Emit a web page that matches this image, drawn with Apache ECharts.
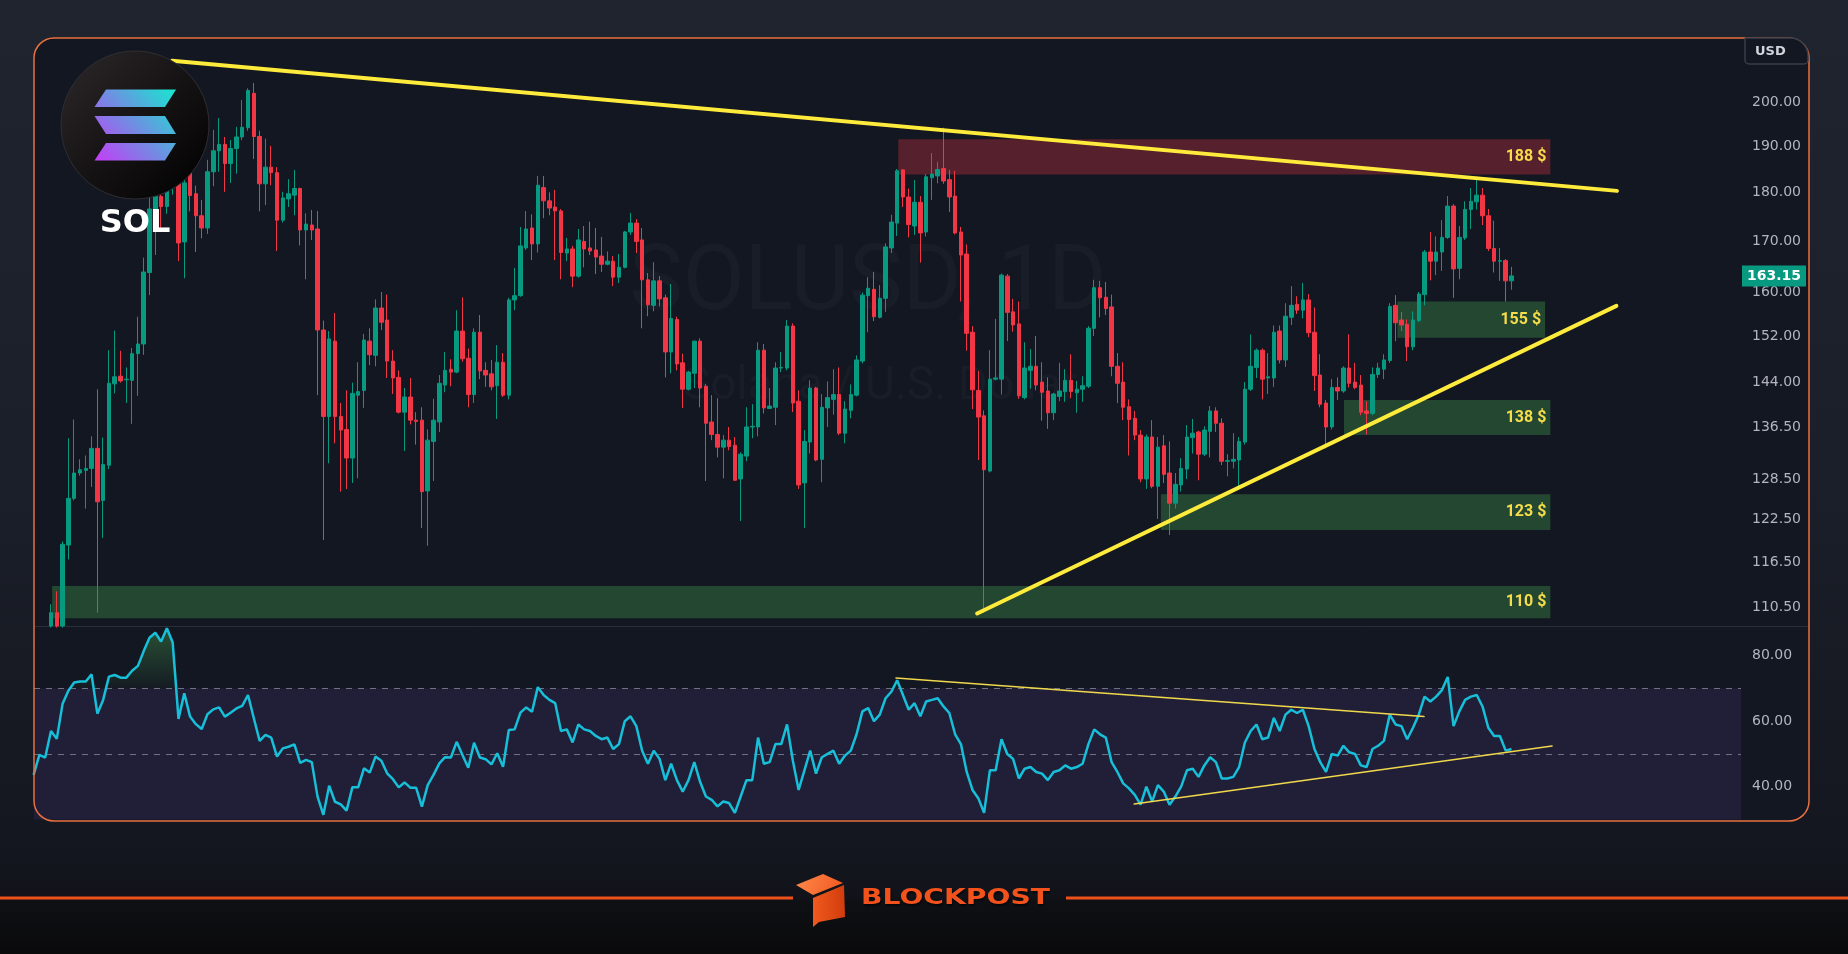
<!DOCTYPE html>
<html>
<head>
<meta charset="utf-8">
<title>SOLUSD 1D</title>
<style>
html, body { margin: 0; padding: 0; background: #161a23; }
#main { width: 1848px; height: 954px; }
</style>
<script src="https://cdn.jsdelivr.net/npm/echarts@6.0.0/dist/echarts.min.js"></script>
</head>
<body>
<div id="main"></div>
<script>
var chart = echarts.init(document.getElementById('main'));

// daily candles, index 0 = first visible bar
var opens = [108.1,109.8,108.1,118.9,125.6,129.4,129.8,130.1,133.2,125.3,
130.6,143.7,145.0,144.4,144.3,148.9,150.6,163.8,176.5,179.1,
177.0,181.0,182.3,169.8,184.4,179.7,175.1,172.6,184.4,189.0,
190.4,186.2,189.5,192.1,194.2,202.2,192.2,181.8,185.4,184.2,
174.2,178.6,179.4,180.8,172.2,173.2,172.4,153.1,138.3,151.1,
138.3,136.2,131.7,141.8,142.6,151.1,148.6,157.1,154.9,147.6,
144.8,139.0,141.5,137.7,137.7,126.7,134.3,137.4,143.5,146.2,
145.7,152.9,148.1,141.9,152.7,146.0,145.4,143.4,147.4,141.8,
158.6,159.4,168.6,172.6,169.4,181.0,178.2,176.9,176.1,167.6,
168.4,163.1,169.9,168.6,168.2,167.0,165.4,166.0,162.9,164.8,
171.8,173.6,170.2,162.4,157.6,162.2,159.0,149.2,155.0,147.3,
142.8,145.5,151.1,143.3,137.4,135.4,133.4,134.5,133.7,128.5,
132.0,136.6,136.6,149.5,139.6,139.8,146.4,146.4,153.8,140.8,
127.9,134.2,143.0,131.5,139.7,141.1,141.9,135.6,139.3,141.8,
147.6,159.4,160.6,155.4,158.9,168.6,173.6,184.8,179.0,173.0,
177.9,171.8,183.1,183.5,185.1,182.7,179.2,171.8,167.4,152.7,
142.6,138.4,129.7,144.5,144.5,163.1,156.4,154.2,141.4,146.0,
146.7,144.0,142.5,138.9,141.6,142.4,144.3,142.2,142.8,143.3,
153.4,160.9,159.1,157.3,146.7,144.0,139.9,138.0,135.3,128.5,
135.0,127.4,133.6,129.4,124.9,127.6,130.0,134.9,135.8,132.3,
135.9,139.2,137.2,131.2,131.2,131.4,134.2,142.8,146.5,149.5,
144.7,144.7,152.9,147.8,155.4,157.8,156.7,158.6,152.7,145.2,
140.5,136.6,143.1,142.5,146.4,144.0,143.5,139.2,138.8,145.3,
146.2,147.7,157.6,154.9,154.1,150.1,154.8,159.6,167.8,166.0,
167.8,170.7,177.1,164.6,170.6,176.4,178.0,179.4,175.1,168.5,
166.0,166.1,162.2];
var highs = [110.9,112.6,119.4,134.8,137.8,131.5,132.1,135.1,142.8,134.9,
149.5,153.0,149.4,146.5,149.9,155.5,166.7,181.8,182.2,181.5,
183.5,186.0,184.0,183.5,185.5,181.4,178.4,187.0,193.7,196.4,
192.1,191.4,194.4,200.6,203.4,204.7,193.5,191.7,190.1,185.4,
180.1,182.8,184.8,181.0,175.6,176.3,176.1,154.8,152.9,156.2,
140.5,142.6,143.9,147.4,152.4,153.4,158.7,160.1,159.6,149.5,
146.0,143.0,144.7,139.0,139.8,136.2,141.2,145.2,149.2,147.9,
156.7,159.1,149.8,153.4,155.8,147.4,147.8,150.4,149.0,159.0,
164.7,172.8,176.1,175.4,183.5,183.5,180.0,180.5,176.5,170.6,
169.0,172.4,173.0,173.9,172.6,170.8,167.9,167.0,167.4,172.0,
175.7,174.4,172.6,163.7,165.8,163.1,159.6,161.6,155.5,148.9,
145.9,151.2,151.6,143.7,141.8,141.3,135.3,136.6,135.0,132.6,
139.8,140.3,150.9,150.6,143.0,147.4,149.2,154.9,154.3,142.6,
136.1,144.3,143.2,142.0,144.1,146.2,146.5,140.8,143.6,148.6,
160.0,162.9,163.9,161.4,169.5,175.3,185.0,185.0,180.8,182.6,
179.2,183.9,188.5,186.6,194.2,184.8,184.6,172.8,169.3,153.8,
145.9,139.3,149.5,155.1,163.6,163.5,158.8,158.3,150.9,149.7,
152.0,147.4,144.8,142.2,147.3,146.2,148.8,144.2,145.0,153.8,
162.4,162.2,162.0,159.6,149.0,147.4,141.1,139.2,136.1,135.4,
137.7,135.0,135.3,134.3,129.4,131.7,136.9,137.9,136.0,136.7,
140.0,139.8,138.0,132.3,135.6,135.0,144.0,152.3,149.8,149.8,
149.0,153.9,153.9,158.0,161.2,159.3,161.8,159.7,157.2,148.8,
141.0,144.5,144.8,146.7,152.3,147.3,145.2,140.8,146.5,147.3,
148.8,158.0,159.5,156.4,155.0,156.5,160.1,168.2,171.8,170.9,
174.2,179.2,177.5,173.0,178.1,180.9,183.3,180.9,176.5,174.1,
168.6,166.4,164.9];
var lows = [107.9,107.9,107.9,116.9,125.3,129.0,124.1,127.3,109.8,119.9,
130.0,142.1,143.9,140.5,137.1,141.7,148.7,159.5,167.2,172.0,
175.5,179.5,166.0,162.7,176.0,167.8,170.5,171.4,181.3,184.4,
180.1,182.0,184.0,191.4,193.5,187.2,176.0,177.3,181.5,168.0,
173.7,176.9,175.2,169.1,162.5,170.2,141.8,119.6,130.9,134.0,
126.6,127.0,127.9,128.6,139.7,146.9,146.7,153.1,144.7,142.0,
138.8,132.8,137.0,133.8,121.3,118.8,128.2,135.8,142.3,143.3,
145.5,147.5,139.8,140.5,144.5,143.2,142.6,137.9,141.5,141.1,
156.7,159.2,168.2,166.2,167.7,174.6,175.2,166.2,162.5,166.0,
161.0,162.8,164.8,167.2,163.5,163.9,165.2,161.2,161.8,164.6,
171.2,167.6,153.4,155.6,156.5,157.4,144.8,145.5,146.0,139.7,
142.6,143.0,139.8,128.2,134.5,131.8,128.6,132.9,128.2,122.3,
131.2,134.8,135.1,138.8,139.5,136.9,145.7,146.0,139.0,127.0,
121.3,132.4,131.2,128.0,136.6,138.6,135.3,134.0,138.0,141.6,
147.2,152.7,154.7,155.2,156.4,167.6,171.0,176.9,170.7,171.2,
165.7,170.9,178.4,181.9,181.8,175.9,171.3,158.3,149.4,139.5,
131.4,109.8,129.5,144.3,141.9,151.1,152.8,141.2,141.1,142.9,
142.6,137.6,136.3,137.7,140.8,140.7,141.3,138.9,140.7,143.0,
152.0,155.4,155.8,145.0,140.5,137.7,132.1,134.5,128.0,127.0,
127.1,122.6,127.9,120.3,124.1,126.6,128.5,132.4,128.3,132.0,
131.8,135.8,130.6,128.9,130.1,127.0,133.8,142.5,144.7,141.1,
142.0,143.2,147.2,146.6,154.0,156.0,155.2,151.8,142.5,139.8,
133.2,136.2,141.0,142.2,143.1,142.8,138.5,135.4,138.5,144.7,
144.5,147.3,151.1,152.9,147.6,149.5,154.5,157.6,162.3,163.3,
164.1,170.4,159.0,162.5,170.2,172.4,176.4,173.2,168.0,163.8,
162.2,158.3,160.5];
var closes = [109.8,108.1,119.0,125.6,129.4,129.9,130.1,133.2,125.1,130.7,
143.8,144.9,144.2,144.5,148.9,150.6,163.9,176.5,179.1,177.0,
181.0,182.3,169.6,182.0,179.3,175.1,172.6,184.4,189.0,190.4,
186.2,189.5,192.1,194.3,202.9,192.2,181.8,185.4,184.2,174.2,
178.8,179.7,180.8,172.2,173.4,172.2,153.1,138.3,151.5,138.3,
136.1,131.7,142.1,142.4,151.3,148.7,157.1,154.5,147.6,144.7,
139.0,141.5,137.7,137.5,126.6,134.5,137.7,143.8,146.0,145.7,
152.9,148.0,141.9,152.7,145.9,145.2,143.2,147.4,141.8,158.6,
159.4,169.0,172.4,169.4,181.5,178.2,176.7,176.1,167.7,168.4,
163.1,170.2,168.4,168.0,166.8,165.4,166.0,162.9,164.8,171.8,
173.6,169.9,162.4,157.7,162.2,158.8,149.2,155.2,147.1,142.8,
145.7,151.1,143.0,137.2,135.4,133.4,134.5,133.5,128.3,132.3,
136.6,136.7,149.5,139.7,140.0,146.4,146.5,153.8,140.5,127.6,
134.3,143.0,131.4,139.8,141.4,141.9,135.6,139.5,141.9,147.8,
159.5,160.8,155.5,158.9,168.8,173.8,184.6,179.0,173.3,177.9,
171.6,183.3,183.9,184.9,182.4,179.0,171.6,167.2,152.5,142.7,
138.2,129.9,144.5,144.7,163.3,156.3,154.0,141.7,146.4,146.7,
143.5,142.3,138.9,142.0,142.5,144.3,142.4,142.8,143.4,153.4,
160.9,159.0,157.0,146.7,143.8,139.8,137.8,135.3,128.5,135.0,
127.4,133.4,129.2,124.9,127.7,130.1,135.0,135.6,132.3,136.1,
139.2,137.2,131.2,131.3,131.5,134.3,142.8,146.7,149.5,144.5,
144.9,152.7,147.8,155.6,157.6,156.7,158.6,152.6,145.1,140.3,
136.6,143.1,142.5,146.4,143.8,143.1,139.0,138.8,145.3,146.4,
147.8,157.4,154.4,154.0,150.1,154.9,159.7,167.8,166.0,167.8,
170.7,177.1,164.5,170.7,176.4,178.1,179.4,175.1,168.5,166.0,
166.1,162.2,163.15];

// RSI(14), first value belongs to bar index -3 (left of the first visible candle)
var rsiStart = -3;
var rsi = [43.6,49.7,48.9,57.0,54.6,65.3,69.3,71.8,72.1,72.1,
74.3,62.3,66.5,73.6,74.1,73.3,73.3,75.4,76.9,81.4,
85.5,87.0,84.3,88.4,84.0,60.7,68.5,61.4,59.1,57.6,
62.1,63.6,64.2,61.4,62.6,63.9,64.7,68.0,60.9,54.0,
55.8,55.0,49.2,51.7,52.2,52.9,47.3,48.2,47.5,36.9,
31.4,40.3,35.4,34.6,32.7,39.8,39.8,45.6,44.3,49.2,
47.9,44.1,42.3,39.8,41.3,39.7,39.7,33.9,40.5,43.6,
47.1,49.0,48.9,53.7,49.7,45.8,53.4,48.9,48.4,46.8,
50.2,46.1,57.3,57.5,62.6,64.2,62.9,
70.4,68,66.5,65.5,57,57.5,53.5,59,57.5,57,
55.5,54.5,55,51.5,53,60,61.5,58.5,51,47,
51,48.5,42,47,42,38.5,42,47.5,41.5,37,
36,34,35.5,35,32,37,42,42,55,47,
47.5,53,53,59,48,39,45,51,44,49,
50,51,47,49.5,51,56,63,64,60,62,
67,69,72.5,68,63.5,65.5,61.5,66,66.5,67,
64.5,62.5,56,53,44.5,39,36.5,32,45,45,
54.5,50,48.5,42.5,45.5,46,44.5,44,42,44.5,
45,46.5,45.5,46,47,53,57.5,56,55,47.5,
44.5,41,39.5,37.5,34.5,40,35.5,40.5,38.5,34.5,
37,40,45,45.5,43,46.5,49,47.5,42.5,42.5,
43,46,53.5,57,59,54.5,55,61,57,62,
63.5,62.5,63.5,58.5,51.5,47.5,44.5,50,49.5,52.5,
50.5,50,46.5,46,51.5,52.5,54,62,59,58.5,
54.5,58,62,67.5,66,67.5,69.5,73.5,58.5,63,
66.5,67.5,68,64.5,58,55.5,55.5,51,51.5];

var priceTicks = [110.5, 116.5, 122.5, 128.5, 136.5, 144, 152, 160, 170, 180, 190, 200];
var rsiTicks = [40, 60, 80];

// drawn zones: bar index range and price range
var zones = [
  { label: '188 $', from: 146.2, to: 258.7, low: 183.8, high: 191.6, kind: 'supply' },
  { label: '155 $', from: 232.3, to: 257.8, low: 151.7, high: 158.3, kind: 'demand' },
  { label: '138 $', from: 223.1, to: 258.7, low: 135.3, high: 141.0, kind: 'demand' },
  { label: '123 $', from: 191.5, to: 258.7, low: 121.0, high: 126.2, kind: 'demand' },
  { label: '110 $', from: 0.2, to: 258.7, low: 109.1, high: 113.3, kind: 'demand' }
];
// trend lines as [barIndex, value] pairs
var priceTrends = [[[20.9, 210.1], [270.2, 180.3]], [[159.8, 109.7], [270.1, 157.5]]];
var rsiTrends = [[[145.8, 73.2], [236.9, 61.4]], [[186.9, 34.7], [259.0, 52.4]]];

var X_MIN = -2.93, X_MAX = 291.6;
var lastClose = closes[closes.length - 1];

var candleData = opens.map(function (o, i) {
  return [i, o, closes[i], lows[i], highs[i]];
});
var rsiData = rsi.map(function (v, k) { return [rsiStart + k, v]; });
var rsiOver = rsiData.map(function (p) { return [p[0], Math.max(p[1], 70)]; });

var fmt = function (v) { return Number(v).toFixed(2); };

var zoneAreas = zones.map(function (z) {
  var red = z.kind === 'supply';
  return [{
    xAxis: z.from, yAxis: z.high,
    itemStyle: { color: red ? 'rgba(242,54,69,0.3)' : 'rgba(76,175,80,0.32)' },
    label: { show: true, formatter: z.label }
  }, { xAxis: z.to, yAxis: z.low }];
});

function trendSeries(pts, xi, width, color) {
  return {
    type: 'line', xAxisIndex: xi, yAxisIndex: xi, data: pts,
    symbol: 'none', silent: true, z: 6,
    lineStyle: { color: color, width: width, cap: 'round' }
  };
}

var solGrad = new echarts.graphic.LinearGradient(94, 161, 176, 89, [
  { offset: 0, color: '#c63bf6' },
  { offset: 0.5, color: '#6f8fe2' },
  { offset: 1, color: '#14e9cf' }
], true);

option = {
  animation: false,
  backgroundColor: {
    type: 'linear', x: 0, y: 0, x2: 0, y2: 1,
    colorStops: [
      { offset: 0, color: '#20242f' },
      { offset: 0.5, color: '#1b1f29' },
      { offset: 0.88, color: '#141720' },
      { offset: 0.94, color: '#111319' },
      { offset: 0.945, color: '#0f1014' },
      { offset: 1, color: '#0a0a0b' }
    ]
  },
  grid: [
    { left: 34, top: 38, width: 1707, height: 588 },
    { left: 34, top: 627, width: 1707, height: 193 }
  ],
  xAxis: [
    { type: 'value', gridIndex: 0, min: X_MIN, max: X_MAX, show: false },
    { type: 'value', gridIndex: 1, min: X_MIN, max: X_MAX, show: false }
  ],
  yAxis: [
    {
      type: 'log', logBase: 10, gridIndex: 0, position: 'right', min: 108.1, max: 215.8,
      axisLine: { show: false }, axisTick: { show: false }, splitLine: { show: false },
      axisLabel: {
        customValues: priceTicks, formatter: fmt, color: '#b2b5be',
        fontSize: 14, fontFamily: 'DejaVu Sans', margin: 11
      }
    },
    {
      type: 'value', gridIndex: 1, position: 'right', min: 29.83, max: 88.76,
      axisLine: { show: false }, axisTick: { show: false }, splitLine: { show: false },
      axisLabel: {
        customValues: rsiTicks, formatter: fmt, color: '#b2b5be',
        fontSize: 14, fontFamily: 'DejaVu Sans', margin: 11
      }
    }
  ],
  graphic: [
    // chart frame fill
    { type: 'rect', z: -5, silent: true,
      shape: { x: 34, y: 38, width: 1775, height: 783, r: 20 },
      style: { fill: '#131722' } },
    // watermark
    { type: 'text', z: -4, silent: true, x: 868, y: 286,
      style: { text: 'SOLUSD, 1D', font: '90px Roboto', fill: 'rgba(200,205,220,0.035)',
        textAlign: 'center', textVerticalAlign: 'middle' } },
    { type: 'text', z: -4, silent: true, x: 880, y: 387,
      style: { text: 'Solana / U.S. Dollar', font: '46px Roboto', fill: 'rgba(200,205,220,0.035)',
        textAlign: 'center', textVerticalAlign: 'middle' } },
    // pane separator
    { type: 'line', z: 3, silent: true,
      shape: { x1: 34, y1: 626.5, x2: 1809, y2: 626.5 },
      style: { stroke: '#2a2e39', lineWidth: 1 } },
    // frame border
    { type: 'rect', z: 100, silent: true,
      shape: { x: 34, y: 38, width: 1775, height: 783, r: 20 },
      style: { fill: null, stroke: '#e9703f', lineWidth: 1.5 } },
    // currency box
    { type: 'rect', z: 101, silent: true,
      shape: { x: 1745, y: 38, width: 63, height: 26, r: [0, 18, 4, 4] },
      style: { fill: '#131722', stroke: '#3a3e4a', lineWidth: 1.5 } },
    { type: 'text', z: 102, silent: true, x: 1755, y: 51.5,
      style: { text: 'USD', fontSize: 13, fontWeight: 'bold', fontFamily: 'DejaVu Sans',
        fill: '#d1d4dc', textVerticalAlign: 'middle' } },
    // SOL logo
    { type: 'circle', z: 110, silent: true,
      shape: { cx: 135, cy: 125, r: 74 },
      style: {
        fill: new echarts.graphic.LinearGradient(0, 0, 1, 1, [
          { offset: 0, color: '#2d292a' }, { offset: 0.55, color: '#141112' }, { offset: 1, color: '#000000' }
        ]),
        stroke: '#2e2e33', lineWidth: 1
      } },
    { type: 'polygon', z: 111, silent: true,
      shape: { points: [[106, 89.5], [176, 89.5], [165, 107], [94.5, 107]] },
      style: { fill: solGrad } },
    { type: 'polygon', z: 111, silent: true,
      shape: { points: [[94.5, 116], [165, 116], [176, 134], [106, 134]] },
      style: { fill: solGrad } },
    { type: 'polygon', z: 111, silent: true,
      shape: { points: [[106, 143], [176, 143], [165, 160.5], [94.5, 160.5]] },
      style: { fill: solGrad } },
    { type: 'text', z: 111, silent: true, x: 135, y: 224,
      style: { text: 'SOL', font: 'bold 32px "DejaVu Sans"', fill: '#ffffff',
        textAlign: 'center', textVerticalAlign: 'middle' } },
    // last price tag on the price axis (y is set from the axis below)
    { id: 'tagBox', type: 'rect', z: 105, silent: true,
      shape: { x: 1742, y: 0, width: 64, height: 21 },
      style: { fill: '#089981' } },
    { id: 'tagText', type: 'text', z: 106, silent: true, x: 1774, y: 10.5,
      style: { text: lastClose.toFixed(2), fontSize: 14, fontWeight: 'bold', fontFamily: 'DejaVu Sans',
        fill: '#ffffff', textAlign: 'center', textVerticalAlign: 'middle' } },
    // footer brand
    { type: 'rect', z: 100, silent: true, shape: { x: 0, y: 896.5, width: 793, height: 3 },
      style: { fill: '#f0501a' } },
    { type: 'rect', z: 100, silent: true, shape: { x: 1066, y: 896.5, width: 782, height: 3 },
      style: { fill: '#f0501a' } },
    { type: 'polygon', z: 101, silent: true,
      shape: { points: [[796, 885], [823, 874], [843, 883], [813, 895]] },
      style: { fill: new echarts.graphic.LinearGradient(0, 0, 1, 1, [
        { offset: 0, color: '#ff8a4c' }, { offset: 1, color: '#f0561e' }]) } },
    { type: 'polygon', z: 101, silent: true,
      shape: { points: [[813, 898], [844, 885], [845, 917], [819, 922], [813, 927]] },
      style: { fill: new echarts.graphic.LinearGradient(0, 0, 1, 0, [
        { offset: 0, color: '#f05a1e' }, { offset: 1, color: '#d23c0c' }]) } },
    { type: 'text', z: 101, silent: true, x: 861, y: 898.5, scaleX: 1.28,
      style: { text: 'BLOCKPOST', font: 'bold 22px "DejaVu Sans"', fill: '#f4521c',
        textVerticalAlign: 'middle',
        textShadowColor: 'rgba(0,0,0,0.6)', textShadowOffsetX: 1, textShadowOffsetY: 2, textShadowBlur: 2 } }
  ],
  series: [
    {
      name: 'zones', type: 'line', xAxisIndex: 0, yAxisIndex: 0, data: [], silent: true,
      markArea: {
        silent: true, z: 1,
        label: { position: 'insideRight', distance: 4, color: '#f6dc4a', fontSize: 16,
          fontWeight: 'bold', fontFamily: 'Roboto' },
        data: zoneAreas
      }
    },
    {
      name: 'SOLUSD', type: 'candlestick', xAxisIndex: 0, yAxisIndex: 0,
      data: candleData, encode: { x: 0, y: [1, 2, 3, 4] },
      barWidth: 4, z: 3, silent: true,
      itemStyle: {
        color: '#089981', color0: '#f23645',
        borderColor: '#089981', borderColor0: '#f23645', borderWidth: 1
      }
    },
    trendSeries(priceTrends[0], 0, 4, '#ffeb3b'),
    trendSeries(priceTrends[1], 0, 4, '#ffeb3b'),
    {
      name: 'rsiBand', type: 'line', xAxisIndex: 1, yAxisIndex: 1, data: [], silent: true,
      markArea: {
        silent: true, z: 1,
        itemStyle: { color: '#211f38' },
        data: [[{ yAxis: 30 }, { yAxis: 70 }]]
      },
      markLine: {
        silent: true, z: 2, symbol: ['none', 'none'], label: { show: false },
        lineStyle: { color: '#6f7280', type: [6, 6], width: 1 },
        data: [{ yAxis: 70 }, { yAxis: 50 }]
      }
    },
    {
      name: 'overbought', type: 'line', xAxisIndex: 1, yAxisIndex: 1, data: rsiOver,
      symbol: 'none', silent: true, z: 3,
      lineStyle: { width: 0 },
      areaStyle: {
        origin: 70,
        color: new echarts.graphic.LinearGradient(0, 0, 0, 1, [
          { offset: 0, color: 'rgba(76,175,80,0.55)' },
          { offset: 1, color: 'rgba(76,175,80,0.04)' }
        ])
      }
    },
    {
      name: 'RSI', type: 'line', xAxisIndex: 1, yAxisIndex: 1, data: rsiData,
      symbol: 'none', silent: true, z: 4,
      lineStyle: { color: '#17bfd9', width: 2.5 }
    },
    trendSeries(rsiTrends[0], 1, 1.5, '#f0d84c'),
    trendSeries(rsiTrends[1], 1, 1.5, '#f0d84c')
  ]
};

chart.setOption(option);

// place the last-price tag where the price axis puts the last close
var tagY = chart.convertToPixel({ yAxisIndex: 0 }, lastClose);
chart.setOption({
  graphic: [
    { id: 'tagBox', shape: { y: tagY - 10.5 } },
    { id: 'tagText', y: tagY }
  ]
});
</script>
</body>
</html>
